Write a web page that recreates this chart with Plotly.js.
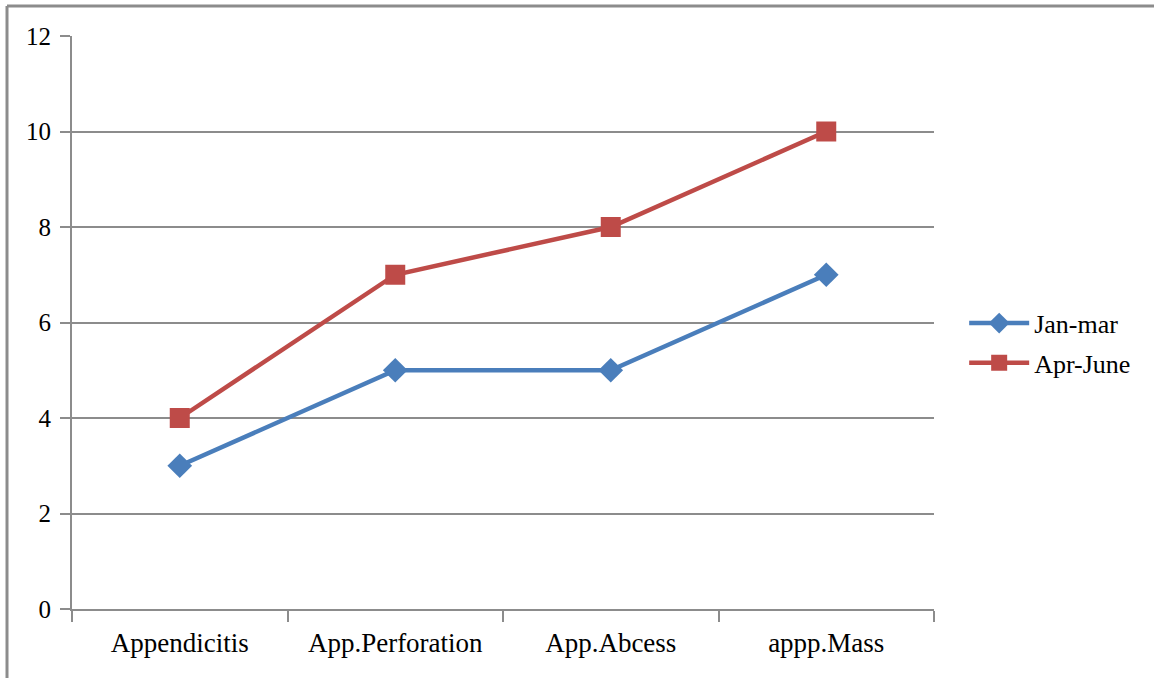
<!DOCTYPE html>
<html>
<head>
<meta charset="utf-8">
<script src="https://cdn.plot.ly/plotly-3.0.1.min.js"></script>
<style>
  html, body { margin: 0; padding: 0; background: #ffffff; }
  #chart { width: 1154px; height: 678px; }
</style>
</head>
<body>
<div id="chart"></div>
<script>
// Cases per category in each quarter
const categories = ['Appendicitis', 'App.Perforation', 'App.Abcess', 'appp.Mass'];
const janMar = [3, 5, 5, 7];
const aprJune = [4, 7, 8, 10];
const seriesNames = ['Jan-mar', 'Apr-June'];
const yTicks = [0, 2, 4, 6, 8, 10, 12];

const grey = '#8c8c8c';
const family = '"Liberation Serif", "Times New Roman", serif';
const font = { family: family, size: 25, color: '#000000' };
const xFont = { family: family, size: 27, color: '#000000' };
const legendFont = { family: family, size: 26, color: '#000000' };

const traces = [
  {
    x: categories, y: janMar, name: seriesNames[0], type: 'scatter', mode: 'lines+markers',
    line: { color: '#4a7ebb', width: 4.5 },
    marker: { symbol: 'diamond', size: 19, color: '#4a7ebb' },
    legendgroup: 'a'
  },
  {
    x: categories, y: aprJune, name: seriesNames[1], type: 'scatter', mode: 'lines+markers',
    line: { color: '#be4b48', width: 4.5 },
    marker: { symbol: 'square', size: 20, color: '#be4b48' },
    legendgroup: 'b'
  }
];

const layout = {
  width: 1154, height: 678,
  margin: { l: 72, r: 220, t: 36, b: 69 },
  paper_bgcolor: '#ffffff', plot_bgcolor: '#ffffff',
  font: font,
  showlegend: true,
  legend: {
    x: 1.035, y: 0.464, xanchor: 'left', yanchor: 'middle',
    font: legendFont, traceorder: 'grouped', tracegroupgap: 3, itemwidth: 60,
    bgcolor: 'rgba(0,0,0,0)'
  },
  xaxis: {
    type: 'category', tickson: 'boundaries', range: [-0.5, 3.5],
    ticks: 'outside', ticklen: 11, tickwidth: 2, tickcolor: grey,
    showline: true, linecolor: grey, linewidth: 2,
    showgrid: false, zeroline: false, fixedrange: true,
    tickfont: xFont, ticklabelstandoff: 9
  },
  yaxis: {
    range: [0, 12], tickvals: yTicks, ticktext: yTicks.map(String),
    ticks: 'outside', ticklen: 10, tickwidth: 2, tickcolor: grey,
    showline: true, linecolor: grey, linewidth: 2,
    showgrid: true, gridcolor: grey, gridwidth: 2,
    zeroline: false, fixedrange: true,
    tickfont: font, ticklabelstandoff: 4
  },
  shapes: [
    // outer frame: left and top edges
    { type: 'line', xref: 'paper', yref: 'paper', x0: -0.0754, x1: -0.0754, y0: 1.0524, y1: -0.13,
      line: { color: grey, width: 3 } },
    { type: 'line', xref: 'paper', yref: 'paper', x0: -0.0754, x1: 1.26, y0: 1.0524, y1: 1.0524,
      line: { color: grey, width: 3 } }
  ]
};

Plotly.newPlot('chart', traces, layout, { displayModeBar: false, staticPlot: true });
</script>
</body>
</html>
